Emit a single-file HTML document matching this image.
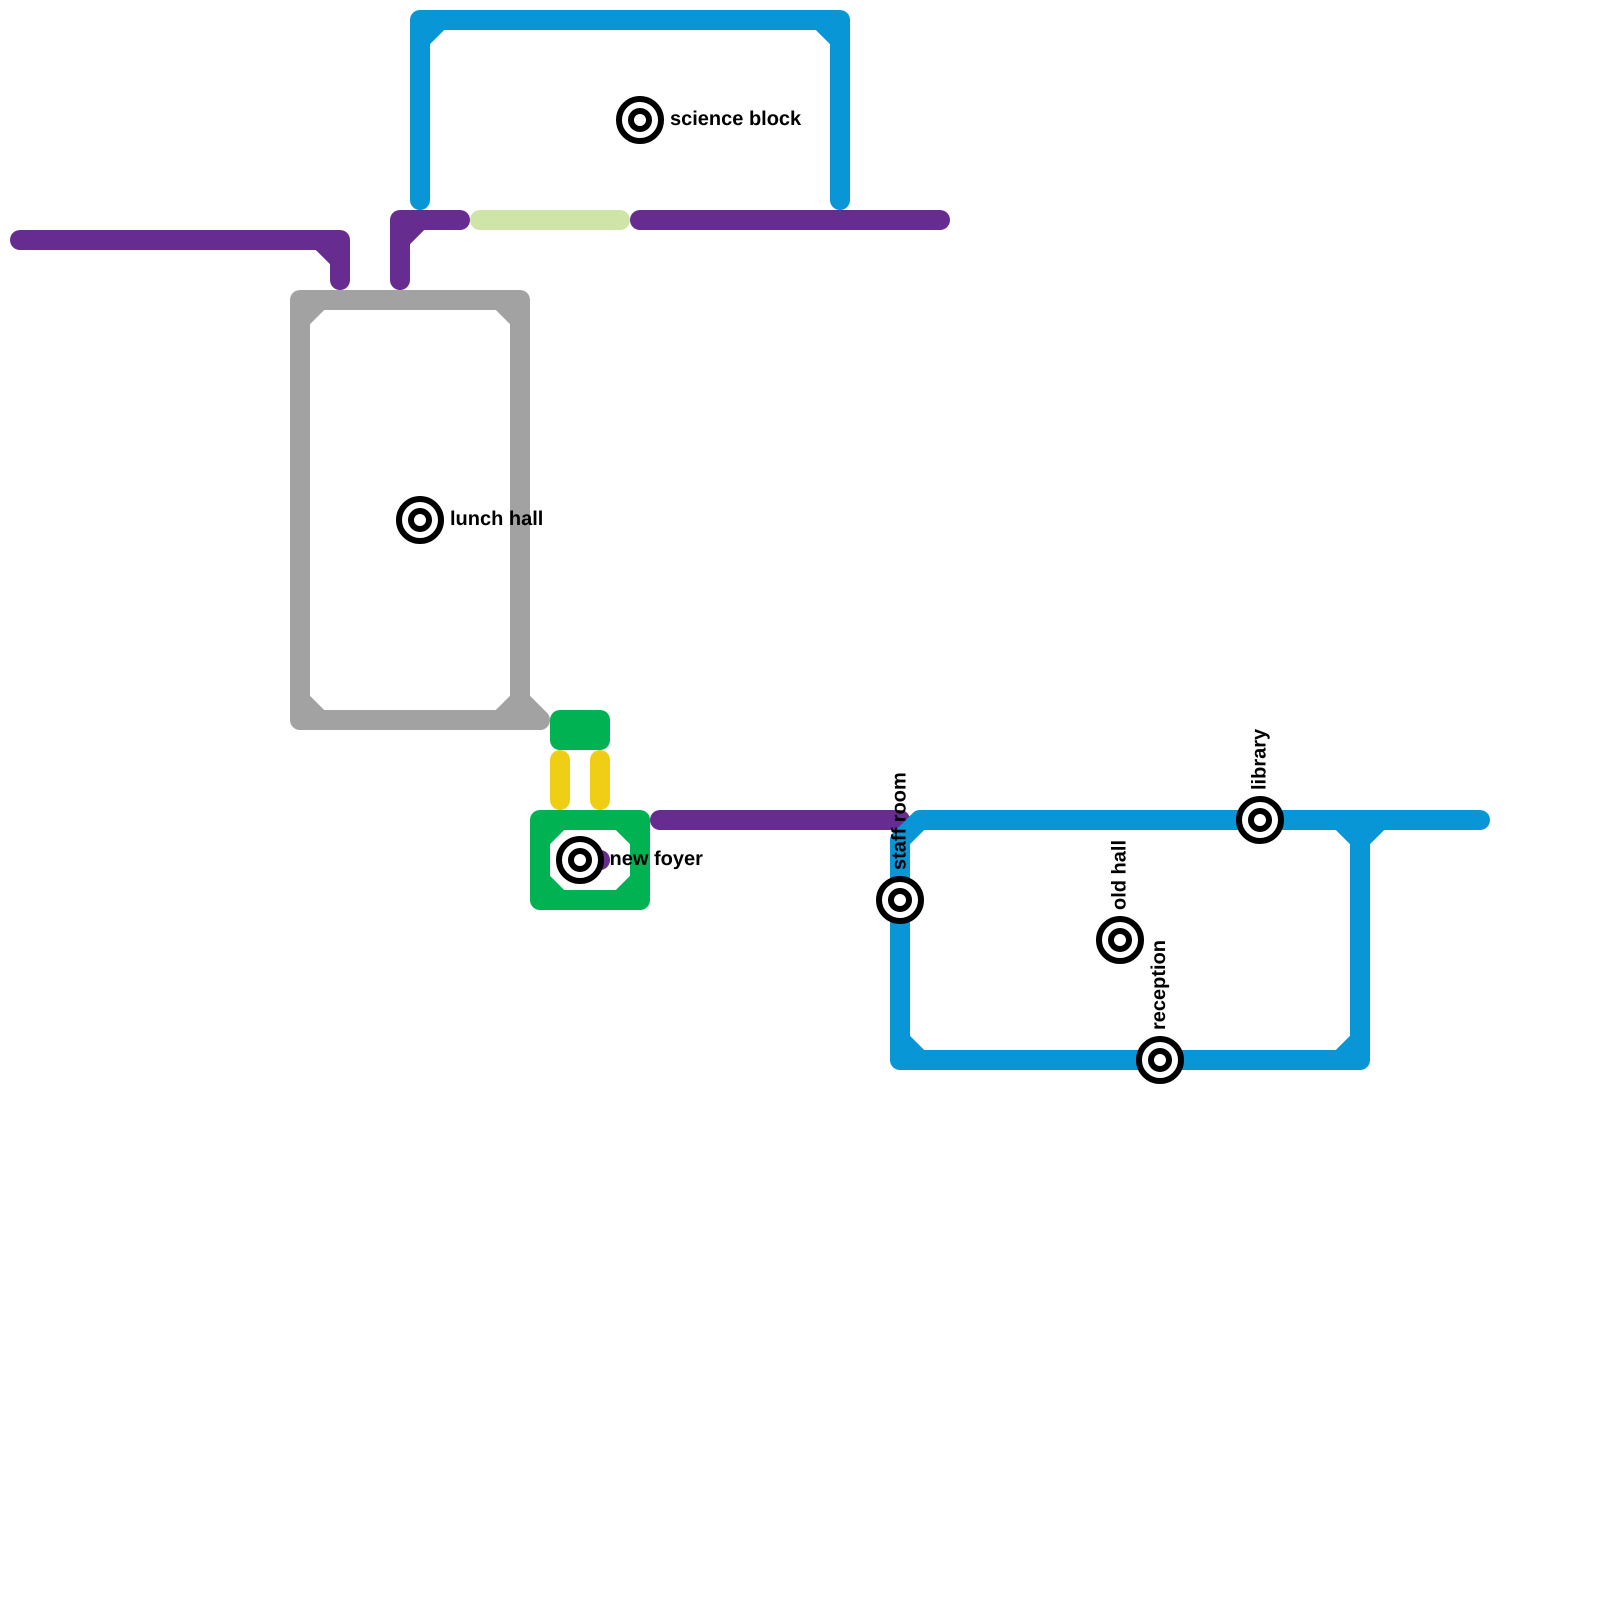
<!DOCTYPE html>
<html>
<head>
<meta charset="utf-8">
<style>
html,body{margin:0;padding:0;background:#fff}
svg{display:block}
text{font-family:"Liberation Sans",sans-serif;font-weight:700;font-size:20px;fill:#000;text-rendering:geometricPrecision}
.l{fill:none;stroke-width:20;stroke-linecap:round;stroke-linejoin:round}
.d{fill:none;stroke-width:20;stroke-linecap:butt}
</style>
</head>
<body>
<svg width="1600" height="1600" viewBox="0 0 1600 1600" xmlns="http://www.w3.org/2000/svg">
<rect width="1600" height="1600" fill="#fff"/>

<!-- purple -->
<g stroke="#662c90">
<path class="l" d="M20 240H340V280"/>
<path class="d" d="M320 240L340 260"/>
<path class="l" d="M400 280V220H460"/>
<path class="d" d="M400 240L420 220"/>
<path class="l" d="M640 220H940"/>
<path class="l" d="M660 820H900"/>
<path class="l" d="M600 860H600.01"/>
</g>

<!-- light green -->
<path class="l" stroke="#cfe4a7" d="M480 220H620"/>

<!-- blue top -->
<g stroke="#0896d7">
<path class="l" d="M420 200V20H840V200"/>
<path class="d" d="M420 40L440 20"/>
<path class="d" d="M820 20L840 40"/>
</g>

<!-- grey -->
<g stroke="#a2a2a2">
<path class="l" d="M300 300H520V720H300Z"/>
<path class="d" d="M300 320L320 300"/>
<path class="d" d="M500 300L520 320"/>
<path class="d" d="M300 700L320 720"/>
<path class="d" d="M500 720L520 700"/>
<path class="l" d="M520 700L540 720H500"/>
</g>

<!-- green -->
<g stroke="#00b251">
<path d="M560 720H600V740H560Z" class="l" style="fill:#00b251"/>
<path class="l" d="M540 820H640V900H540Z"/>
<path class="d" d="M540 840L560 820"/>
<path class="d" d="M620 820L640 840"/>
<path class="d" d="M540 880L560 900"/>
<path class="d" d="M620 900L640 880"/>
</g>

<!-- yellow -->
<g stroke="#f0ce15">
<path class="l" d="M560 760V800"/>
<path class="l" d="M600 760V800"/>
</g>

<!-- blue bottom -->
<g stroke="#0896d7">
<path class="l" d="M1480 820H920L900 840V1060H1360V820"/>
<path class="d" d="M900 1040L920 1060"/>
<path class="d" d="M1340 1060L1360 1040"/>
<path class="d" d="M1340 820L1360 840"/>
<path class="d" d="M1380 820L1360 840"/>
</g>

<!-- stations -->
<defs>
<g id="st">
<circle r="21" fill="#fff" stroke="#000" stroke-width="6"/>
<circle r="9" fill="#fff" stroke="#000" stroke-width="6"/>
</g>
</defs>
<use href="#st" x="640" y="120"/>
<use href="#st" x="420" y="520"/>
<use href="#st" x="580" y="860"/>
<use href="#st" x="900" y="900"/>
<use href="#st" x="1120" y="940"/>
<use href="#st" x="1160" y="1060"/>
<use href="#st" x="1260" y="820"/>

<!-- labels -->
<text x="670" y="125">science block</text>
<text x="450" y="525">lunch hall</text>
<text x="609.5" y="865">new foyer</text>
<text transform="translate(905.3 870) rotate(-90)">staff room</text>
<text transform="translate(1125.3 910) rotate(-90)">old hall</text>
<text transform="translate(1164.8 1030) rotate(-90)">reception</text>
<text transform="translate(1265.3 790) rotate(-90)">library</text>
</svg>
</body>
</html>
